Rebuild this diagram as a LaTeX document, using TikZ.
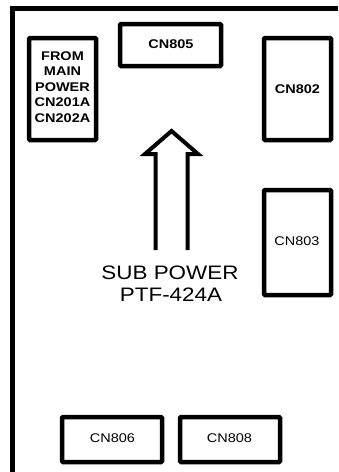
\documentclass[tikz,border=0pt]{standalone}
\usepackage{fontspec}
\setmainfont{Liberation Sans}
\newcommand{\wtxt}[1]{\scalebox{1.15}[1]{#1}}
\begin{document}
\begin{tikzpicture}[x=1pt,y=-1pt,
  conbox/.style={draw=black,line width=4.5pt,rounded corners=1pt},
  blab/.style={font=\fontsize{12.6}{15.5}\selectfont\bfseries,align=center,inner sep=0pt},
  rlab/.style={font=\fontsize{12.6}{15.5}\selectfont,align=center,inner sep=0pt},
  biglab/.style={font=\fontsize{19.5}{22}\selectfont,align=center,inner sep=0pt}]
\useasboundingbox (0,0) rectangle (338,472);
% outer frame (left and top edges visible)
\draw[line width=5pt] (12.5,472) -- (12.5,8.5) -- (338,8.5);
% connector boxes
\draw[conbox] (29,38) rectangle (96,140);
\node[blab] (main) at (62.5,87) {\wtxt{FROM}\\\wtxt{MAIN}\\\wtxt{POWER}\\\wtxt{CN201A}\\\wtxt{CN202A}};
\draw[conbox] (120,24) rectangle (221,66);
\node[blab] (cn805) at (171,44.5) {\wtxt{CN805}};
\draw[conbox] (264,38) rectangle (331,140);
\node[blab] (cn802) at (297.5,89) {\wtxt{CN802}};
\draw[conbox] (264,190) rectangle (331,295);
\node[rlab] (cn803) at (297,241) {\wtxt{CN803}};
\draw[conbox] (62,417) rectangle (162,462);
\node[rlab] (cn806) at (112.5,438) {\wtxt{CN806}};
\draw[conbox] (180,417) rectangle (280,462);
\node[rlab] (cn808) at (229.5,438) {\wtxt{CN808}};
% open arrow
\coordinate (tip) at (171.5,131);
\draw[line width=4pt,line join=miter] (155.5,250) -- (155.5,154) -- (145,154) -- (tip) -- (198,154) -- (187.5,154) -- (187.5,250);
\node[biglab] (sub) at (170,273) {\wtxt{SUB POWER}};
\node[biglab] (ptf) at (171,295) {\wtxt{PTF-424A}};
\end{tikzpicture}
\end{document}
